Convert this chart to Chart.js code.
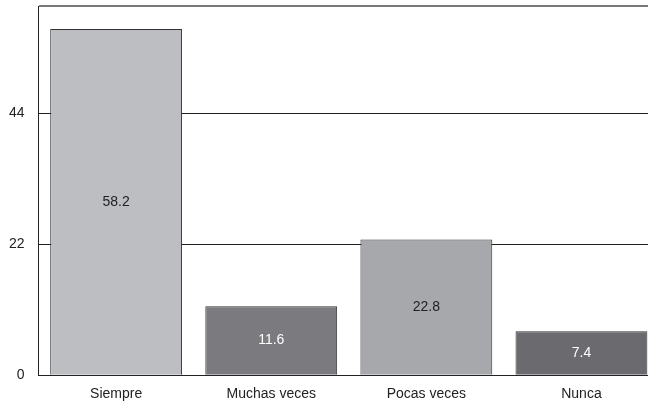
<!DOCTYPE html>
<html>
<head>
<meta charset="utf-8">
<script src="https://cdn.jsdelivr.net/npm/chart.js@4"></script>
<style>
  html, body { margin: 0; padding: 0; background: #fff; overflow: hidden; }
  #wrap { width: 660px; height: 418px; margin-top: -16px; }
</style>
</head>
<body>
<div id="wrap"><canvas id="myChart"></canvas></div>
<script>
const categories = ['Siempre', 'Muchas veces', 'Pocas veces', 'Nunca'];
const values = [58.2, 11.6, 22.8, 7.4];
const barColors = ['#bdbec2', '#7b7b7f', '#a7a8ac', '#6b6b6f'];
const labelColors = ['#222', '#fff', '#222', '#fff'];
const yTicks = [0, 22, 44];
const yMax = 62;

// writes the value in the middle of each bar
const valueLabels = {
    id: 'valueLabels',
    afterDatasetsDraw(chart) {
        const ctx = chart.ctx;
        const meta = chart.getDatasetMeta(0);
        ctx.save();
        ctx.font = '14px "Liberation Sans", Arial, sans-serif';
        ctx.textAlign = 'center';
        ctx.textBaseline = 'middle';
        meta.data.forEach((bar, i) => {
            ctx.fillStyle = labelColors[i];
            ctx.fillText(values[i].toFixed(1), bar.x, (bar.y + bar.base) / 2);
        });
        ctx.restore();
    }
};

const ctx = document.querySelector('#myChart').getContext('2d');

new Chart(ctx, {
    type: 'bar',
    data: {
        labels: categories,
        datasets: [
            {
                data: values,
                backgroundColor: barColors,
                borderColor: '#333',
                borderWidth: 1,
                borderSkipped: 'bottom',
                barPercentage: 0.85,
                categoryPercentage: 1
            }
        ]
    },
    options: {
        responsive: true,
        maintainAspectRatio: false,
        animation: false,
        layout: { padding: { top: 0, right: 1, left: -5, bottom: -12 } },
        plugins: {
            legend: { display: false },
            tooltip: { enabled: false }
        },
        scales: {
            x: {
                grid: { display: false, drawTicks: false },
                border: { display: true, color: '#222', width: 1 },
                ticks: {
                    color: '#222',
                    padding: 11,
                    font: { family: '"Liberation Sans", Arial, sans-serif', size: 14 }
                }
            },
            y: {
                min: 0,
                max: yMax,
                afterBuildTicks: axis => {
                    axis.ticks = yTicks.concat([yMax]).map(v => ({ value: v }));
                },
                grid: {
                    drawTicks: false,
                    color: c => c.tick.value === yMax ? '#777' : '#222',
                    lineWidth: c => c.tick.value === yMax ? 2 : 1
                },
                border: { display: true, color: '#222', width: 1 },
                ticks: {
                    color: '#222',
                    padding: 14,
                    font: { family: '"Liberation Sans", Arial, sans-serif', size: 14 },
                    callback: v => yTicks.includes(v) ? v : ''
                }
            }
        }
    },
    plugins: [valueLabels]
});
</script>
</body>
</html>
